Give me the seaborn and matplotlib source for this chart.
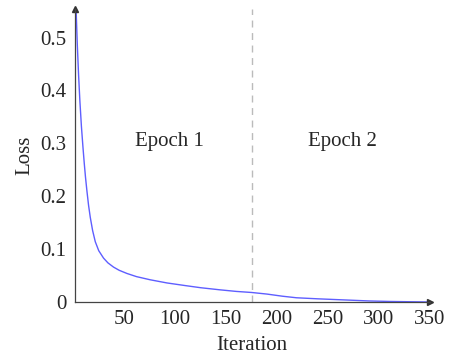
import numpy as np
import pandas as pd
import matplotlib
matplotlib.use("Agg")
import matplotlib.pyplot as plt
import seaborn as sns

# loss values
iteration = [2.8, 4, 5.2, 6.5, 8, 9.5, 10.8, 12, 13.4, 15, 16.7, 19, 21.6, 25,
             29.7, 34, 39.5, 45, 52.6, 62, 75.5, 92, 110, 125, 144, 160, 175,
             190, 205, 219, 240, 265, 290, 311, 330, 350]
loss = [0.552, 0.485, 0.43, 0.38, 0.332, 0.293, 0.262, 0.236, 0.21, 0.183,
        0.16, 0.135, 0.114, 0.097, 0.083, 0.074, 0.066, 0.060, 0.054, 0.048,
        0.042, 0.036, 0.031, 0.027, 0.023, 0.020, 0.018, 0.015, 0.011, 0.008,
        0.006, 0.004, 0.002, 0.001, 0.0005, 0.0]
epoch_split = 175
epoch_labels = ["Epoch 1", "Epoch 2"]
epoch_x = [94, 264]
x_ticks = [50, 100, 150, 200, 250, 300, 350]
y_ticks = [0, 0.1, 0.2, 0.3, 0.4, 0.5]

df = pd.DataFrame({"Iteration": iteration, "Loss": loss})

sns.set_style("white")
plt.rcParams['font.family'] = ['Liberation Serif', 'DejaVu Serif']

fig = plt.figure(figsize=(4.49, 3.56), dpi=100)
ax = fig.add_axes([75.3 / 449, 54 / 356, (430 - 75.3) / 449, (302 - 9) / 356])

sns.lineplot(data=df, x="Iteration", y="Loss", ax=ax, color="#5e5eff", linewidth=1.0)
ax.axvline(epoch_split, color="#bbbbbb", linestyle=(0, (5, 4)), linewidth=1.0)

for lab, xx in zip(epoch_labels, epoch_x):
    ax.text(xx, 0.303, lab, ha="center", va="center", fontsize=15)

ax.set_xlim(2, 350)
ax.set_ylim(0, 0.554)
ax.set_xticks(x_ticks)
ax.set_yticks(y_ticks)
ax.set_yticklabels(["0", "0.1", "0.2", "0.3", "0.4", "0.5"])
ax.tick_params(axis="both", direction="inout", length=5, width=0.6,
               color="#cccccc", labelsize=15, pad=3)
ax.tick_params(axis="y", pad=4)

for s in ["top", "right"]:
    ax.spines[s].set_visible(False)
for s in ["left", "bottom"]:
    ax.spines[s].set_color("#444444")
    ax.spines[s].set_linewidth(0.9)

# arrow heads at the ends of the axis lines
ax.plot(1, 0, marker=">", color="#333333", markersize=4, transform=ax.transAxes, clip_on=False)
ax.plot(0, 1, marker="^", color="#333333", markersize=4, transform=ax.transAxes, clip_on=False)

ax.set_xlabel("Iteration", fontsize=15, labelpad=0)
ax.set_ylabel("Loss", fontsize=15, labelpad=4)
ax.xaxis.set_label_coords((251.7 - 75.3) / (430 - 75.3), -0.115)

fig.savefig("out.png", dpi=100)
